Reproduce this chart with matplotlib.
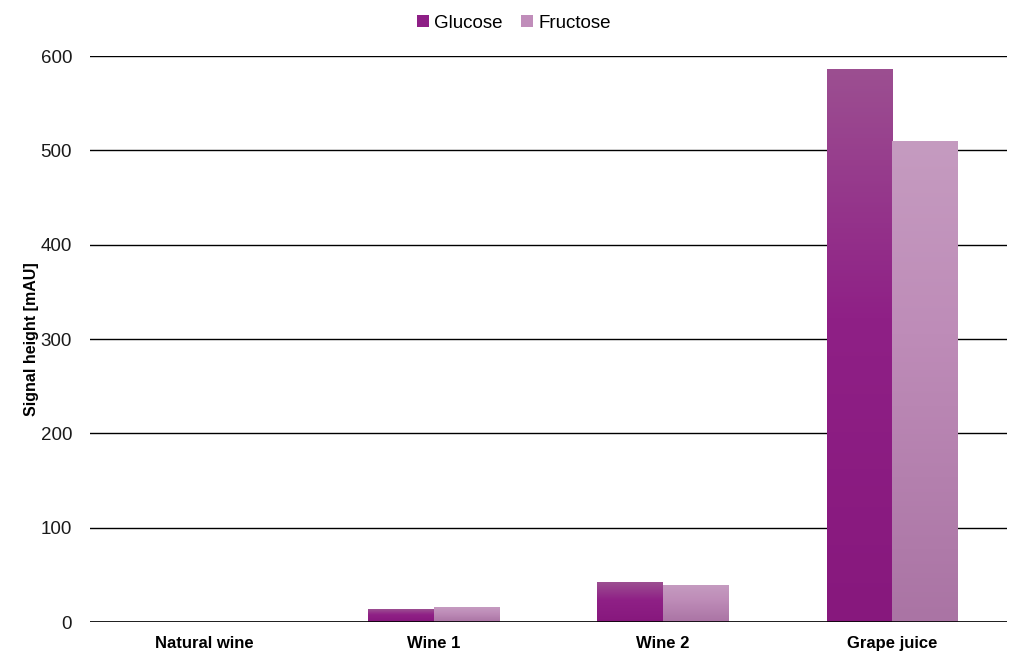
import numpy as np
import matplotlib.pyplot as plt
from matplotlib.colors import LinearSegmentedColormap
from matplotlib.patches import Patch

categories = ['Natural wine', 'Wine 1', 'Wine 2', 'Grape juice']
glucose = [0, 13, 42, 586]
fructose = [0, 15, 39, 510]
yticks = [0, 100, 200, 300, 400, 500, 600]

plt.rcParams['font.family'] = ['Liberation Sans', 'DejaVu Sans']

glu_cmap = LinearSegmentedColormap.from_list(
    'glu', [(0.0, '#87187d'), (0.55, '#8f2086'), (1.0, '#9c4f91')])
fru_cmap = LinearSegmentedColormap.from_list(
    'fru', [(0.0, '#aa74a4'), (0.6, '#be8cb8'), (1.0, '#c59bc0')])

fig = plt.figure(figsize=(10.24, 6.61), dpi=100)
ax = fig.add_axes([0.088, 0.059, 0.895, 0.856])

x = np.arange(len(categories))
w = 0.286

grad = np.linspace(0, 1, 256).reshape(-1, 1)


def gradient_bars(xpos, vals, cmap):
    bars = ax.bar(xpos, vals, w, color='none', edgecolor='none', zorder=3)
    for b in bars:
        h = b.get_height()
        if h <= 0:
            continue
        x0 = b.get_x()
        ax.imshow(grad, cmap=cmap, origin='lower', aspect='auto',
                  extent=[x0, x0 + b.get_width(), 0, h], zorder=3)
    return bars


gradient_bars(x - w / 2, glucose, glu_cmap)
gradient_bars(x + w / 2, fructose, fru_cmap)

ax.set_xlim(-0.5, len(categories) - 0.5)
ax.set_ylim(0, 600)
ax.set_yticks(yticks)
ax.set_xticks(x)
ax.set_xticklabels(categories, fontweight='bold', fontsize=12)
ax.tick_params(axis='y', length=0, pad=13, labelsize=13.5, labelcolor='#1a1a1a')
ax.tick_params(axis='x', length=0, pad=10)
ax.yaxis.grid(True, color='black', linewidth=1.0, zorder=0)
ax.set_axisbelow(True)
ax.axhline(0, color='black', linewidth=1.2, zorder=4)
for s in ax.spines.values():
    s.set_visible(False)

ax.set_ylabel('Signal height [mAU]', fontweight='bold', fontsize=11.5, labelpad=1)

handles = [Patch(facecolor='#8e1f86', label='Glucose'),
           Patch(facecolor='#c08dba', label='Fructose')]
fig.legend(handles=handles, loc='center', bbox_to_anchor=(0.502, 0.965), ncol=2,
           frameon=False, fontsize=13.5, handlelength=0.6, handleheight=0.6,
           handletextpad=0.3, columnspacing=1.0)

fig.savefig('out.png', dpi=100)
